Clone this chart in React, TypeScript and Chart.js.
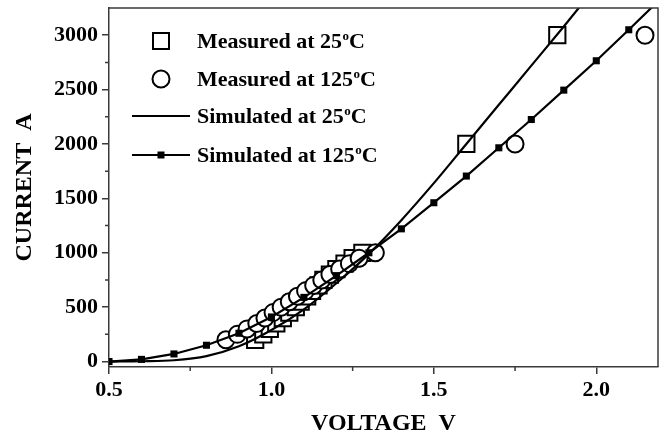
import React, { useEffect, useRef } from "react";
import { Chart, registerables } from "chart.js";

Chart.register(...registerables);

// ---- Data ----
const meas25Voltage = [0.95, 0.975, 0.995, 1.015, 1.035, 1.055, 1.075, 1.09, 1.11, 1.125, 1.145, 1.16, 1.18, 1.2, 1.225, 1.25, 1.28, 1.6, 1.88];
const meas25Current = [200, 250, 300, 350, 400, 450, 500, 550, 600, 650, 700, 750, 800, 850, 900, 950, 1000, 2000, 3000];

const meas125Voltage = [0.86, 0.895, 0.925, 0.955, 0.98, 1.005, 1.03, 1.055, 1.08, 1.105, 1.13, 1.155, 1.18, 1.21, 1.24, 1.27, 1.32, 1.75, 2.15];
const meas125Current = [200, 250, 300, 350, 400, 450, 500, 550, 600, 650, 700, 750, 800, 850, 900, 950, 1000, 2000, 3000];

const sim25Voltage = [0.5, 0.6, 0.7, 0.8, 0.9, 1.0, 1.1, 1.2, 1.3, 1.4, 1.5, 1.6, 1.7, 1.8, 1.9, 2.0];
const sim25Current = [0, 3, 12, 50, 140, 290, 480, 720, 990, 1300, 1640, 2000, 2360, 2720, 3080, 3450];

const sim125Voltage = [0.5, 0.6, 0.7, 0.8, 0.9, 1.0, 1.1, 1.2, 1.3, 1.4, 1.5, 1.6, 1.7, 1.8, 1.9, 2.0, 2.1, 2.2];
const sim125Current = [0, 20, 70, 150, 260, 410, 590, 790, 1000, 1220, 1460, 1705, 1965, 2225, 2495, 2765, 3050, 3340];

const legendLabels = ["Measured at 25", "Measured at 125", "Simulated at 25", "Simulated at 125"];

const xTitle = "VOLTAGE  V";
const yTitle = "CURRENT  A";
const xTickValues = [0.5, 1.0, 1.5, 2.0];
const yTickValues = [0, 500, 1000, 1500, 2000, 2500, 3000];
const xMinorTicks = [0.75, 1.25, 1.75];
const yMinorTicks = [250, 750, 1250, 1750, 2250, 2750];

const FONT_FAMILY = '"Liberation Serif", "Times New Roman", serif';
const AXIS_COLOR = "#3a3a3a";

function pts(xs: number[], ys: number[]) {
  return xs.map((x, i) => ({ x, y: ys[i] }));
}

const decorPlugin = {
  id: "decor",
  afterDraw(chart: any) {
    const { ctx, chartArea } = chart;
    const xs = chart.scales.x;
    const ys = chart.scales.y;
    ctx.save();
    // frame (top & right)
    ctx.strokeStyle = AXIS_COLOR;
    ctx.lineWidth = 1.5;
    ctx.beginPath();
    ctx.moveTo(chartArea.left, chartArea.top);
    ctx.lineTo(chartArea.right, chartArea.top);
    ctx.lineTo(chartArea.right, chartArea.bottom);
    ctx.stroke();
    // minor ticks
    ctx.beginPath();
    xMinorTicks.forEach((v) => {
      const px = xs.getPixelForValue(v);
      ctx.moveTo(px, chartArea.bottom);
      ctx.lineTo(px, chartArea.bottom + 4);
    });
    yMinorTicks.forEach((v) => {
      const py = ys.getPixelForValue(v);
      ctx.moveTo(chartArea.left, py);
      ctx.lineTo(chartArea.left - 4, py);
    });
    ctx.stroke();

    // legend
    const rowsY = [41, 79, 116, 155];
    const markerX = 161;
    const textX = 197;
    ctx.strokeStyle = "#000";
    ctx.lineWidth = 2;
    ctx.fillStyle = "#fff";
    ctx.fillRect(markerX - 8, rowsY[0] - 8, 16, 16);
    ctx.strokeRect(markerX - 8, rowsY[0] - 8, 16, 16);
    ctx.beginPath();
    ctx.arc(markerX, rowsY[1], 8.5, 0, Math.PI * 2);
    ctx.fill();
    ctx.stroke();
    ctx.fillStyle = "#000";
    ctx.lineWidth = 2.2;
    ctx.beginPath();
    ctx.moveTo(132, rowsY[2]);
    ctx.lineTo(190, rowsY[2]);
    ctx.moveTo(132, rowsY[3]);
    ctx.lineTo(190, rowsY[3]);
    ctx.stroke();
    ctx.fillRect(markerX - 3.5, rowsY[3] - 3.5, 7, 7);

    ctx.textBaseline = "alphabetic";
    ctx.textAlign = "left";
    legendLabels.forEach((label, i) => {
      const base = rowsY[i] + 7;
      ctx.font = `bold 22px ${FONT_FAMILY}`;
      ctx.fillText(label, textX, base);
      let x = textX + ctx.measureText(label).width;
      ctx.font = `bold 13px ${FONT_FAMILY}`;
      ctx.fillText("o", x + 0.5, base - 8);
      x += ctx.measureText("o").width + 0.5;
      ctx.font = `bold 22px ${FONT_FAMILY}`;
      ctx.fillText("C", x, base);
    });
    ctx.restore();
  },
};

export default function App() {
  const ref = useRef<HTMLCanvasElement | null>(null);
  useEffect(() => {
    if (!ref.current) return;
    const tickFont = { family: FONT_FAMILY, size: 22, weight: "bold" as const };
    const titleFont = { family: FONT_FAMILY, size: 24, weight: "bold" as const };
    const chart = new Chart(ref.current, {
      type: "line",
      data: {
        datasets: [
          {
            label: "Simulated at 125",
            data: pts(sim125Voltage, sim125Current),
            borderColor: "#000",
            backgroundColor: "#000",
            borderWidth: 2.2,
            pointStyle: "rect",
            pointRadius: 5,
            pointBorderWidth: 0,
            pointBackgroundColor: "#000",
            tension: 0,
            order: 0,
          },
          {
            label: "Simulated at 25",
            data: pts(sim25Voltage, sim25Current),
            borderColor: "#000",
            borderWidth: 2.2,
            pointRadius: 0,
            cubicInterpolationMode: "monotone",
            order: 1,
          },
          {
            label: "Measured at 125",
            data: pts(meas125Voltage, meas125Current),
            showLine: false,
            pointStyle: "circle",
            pointRadius: 8.5,
            pointBorderWidth: 2,
            pointBorderColor: "#000",
            pointBackgroundColor: "#fff",
            order: 2,
          },
          {
            label: "Measured at 25",
            data: pts(meas25Voltage, meas25Current),
            showLine: false,
            pointStyle: "rect",
            pointRadius: 11.5,
            pointBorderWidth: 2,
            pointBorderColor: "#000",
            pointBackgroundColor: "#fff",
            order: 3,
          },
        ],
      },
      options: {
        responsive: false,
        animation: false,
        events: [],
        layout: { autoPadding: false, padding: { left: 0, top: 8, right: 5, bottom: 0 } },
        plugins: { legend: { display: false }, tooltip: { enabled: false } },
        scales: {
          x: {
            type: "linear",
            min: 0.5,
            max: 2.19,
            afterBuildTicks: (s: any) => {
              s.ticks = xTickValues.map((value) => ({ value }));
            },
            afterFit: (s: any) => {
              s.height = 73;
              s.paddingLeft = 0;
              s.paddingRight = 0;
            },
            border: { color: AXIS_COLOR, width: 1.5 },
            grid: { drawOnChartArea: false, drawTicks: true, tickLength: 7, color: AXIS_COLOR, lineWidth: 1.5 },
            ticks: {
              color: "#000",
              font: tickFont,
              padding: 3,
              maxRotation: 0,
              autoSkip: false,
              callback: (v: any) => Number(v).toFixed(1),
            },
            title: { display: true, text: xTitle, color: "#000", font: titleFont, padding: { top: 0, bottom: 2 } },
          },
          y: {
            type: "linear",
            min: -50,
            max: 3250,
            afterBuildTicks: (s: any) => {
              s.ticks = yTickValues.map((value) => ({ value }));
            },
            afterFit: (s: any) => {
              s.width = 109;
              s.paddingTop = 0;
              s.paddingBottom = 0;
            },
            border: { color: AXIS_COLOR, width: 1.5 },
            grid: { drawOnChartArea: false, drawTicks: true, tickLength: 7, color: AXIS_COLOR, lineWidth: 1.5 },
            ticks: {
              color: "#000",
              font: tickFont,
              padding: 4,
              autoSkip: false,
              callback: (v: any) => String(v),
            },
            title: { display: true, text: yTitle, color: "#000", font: titleFont, padding: { top: 10, bottom: 0 } },
          },
        },
      },
      plugins: [decorPlugin],
    });
    return () => chart.destroy();
  }, []);
  return (
    <div style={{ position: "fixed", left: 0, top: 0, width: 663, height: 440, background: "#fff" }}>
      <canvas ref={ref} width={663} height={440} style={{ display: "block" }} />
    </div>
  );
}
